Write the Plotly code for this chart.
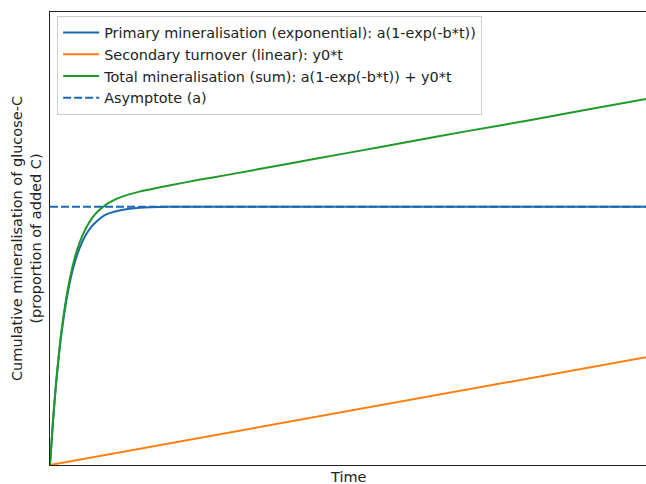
import plotly.graph_objects as go

# Time grid (arbitrary units) and values
t = [0, 0.5, 1, 1.5, 2, 3, 4, 5, 6, 7, 8, 9, 10, 12, 15, 20, 25, 30, 40, 50, 60, 70, 80, 90, 100]
primary = [0, 0.096, 0.176, 0.243, 0.298, 0.382, 0.440, 0.480, 0.508, 0.527, 0.540, 0.550,
           0.556, 0.563, 0.568, 0.570, 0.570, 0.570, 0.570, 0.570, 0.570, 0.570, 0.570, 0.570, 0.570]
secondary = [0, 0.0012, 0.0024, 0.0036, 0.0048, 0.0071, 0.0095, 0.0119, 0.0143, 0.0167, 0.0190,
             0.0214, 0.0238, 0.0286, 0.0357, 0.0476, 0.0595, 0.0714, 0.0952, 0.119, 0.143,
             0.167, 0.190, 0.214, 0.238]
total = [0, 0.0975, 0.179, 0.246, 0.303, 0.389, 0.450, 0.492, 0.522, 0.544, 0.5595, 0.571,
         0.580, 0.592, 0.6035, 0.617, 0.6295, 0.641, 0.665, 0.689, 0.713, 0.737, 0.760, 0.784, 0.808]
asym_t = [0, 100]
asym_y = [0.570, 0.570]

names = ["Primary mineralisation (exponential): a(1-exp(-b*t))",
         "Secondary turnover (linear): y0*t",
         "Total mineralisation (sum): a(1-exp(-b*t)) + y0*t",
         "Asymptote (a)"]
colors = ["#1a68b3", "#ff7f0e", "#1f9a2a", "#1a68b3"]

fig = go.Figure()
fig.add_trace(go.Scatter(x=t, y=primary, mode="lines", name=names[0],
                         line=dict(color=colors[0], width=2, shape="spline", smoothing=0.6)))
fig.add_trace(go.Scatter(x=t, y=secondary, mode="lines", name=names[1],
                         line=dict(color=colors[1], width=2)))
fig.add_trace(go.Scatter(x=t, y=total, mode="lines", name=names[2],
                         line=dict(color=colors[2], width=2, shape="spline", smoothing=0.6)))
fig.add_trace(go.Scatter(x=asym_t, y=asym_y, mode="lines", name=names[3],
                         line=dict(color=colors[3], width=2, dash="8px,3px")))

font = dict(family="DejaVu Sans", size=14.5, color="#222")

fig.update_layout(
    width=646, height=484,
    margin=dict(l=50, r=0, t=12, b=19),
    paper_bgcolor="white", plot_bgcolor="white",
    font=font,
    showlegend=True,
    legend=dict(x=0.012, y=0.992, xanchor="left", yanchor="top",
                bgcolor="rgba(255,255,255,0.9)", bordercolor="#cccccc", borderwidth=1,
                font=dict(family="DejaVu Sans", size=14.4, color="#222"),
                tracegroupgap=0, itemwidth=36),
    xaxis=dict(range=[0, 100], showgrid=False, zeroline=False, showticklabels=False,
               ticks="", showline=True, linecolor="#222", linewidth=1.2, mirror=True),
    yaxis=dict(range=[0, 1.0], showgrid=False, zeroline=False, showticklabels=False,
               ticks="", showline=True, linecolor="#222", linewidth=1.2, mirror=True),
    annotations=[
        dict(text="Time", xref="paper", yref="paper", x=0.5, y=0, xanchor="center",
             yanchor="top", yshift=-2, showarrow=False, font=font),
        dict(text="Cumulative mineralisation of glucose-C<br>(proportion of added C)",
             xref="paper", yref="paper", x=0, y=0.5, xanchor="right", yanchor="middle",
             xshift=-4, textangle=-90, showarrow=False, font=font),
    ],
)

fig.write_html("out.html")
